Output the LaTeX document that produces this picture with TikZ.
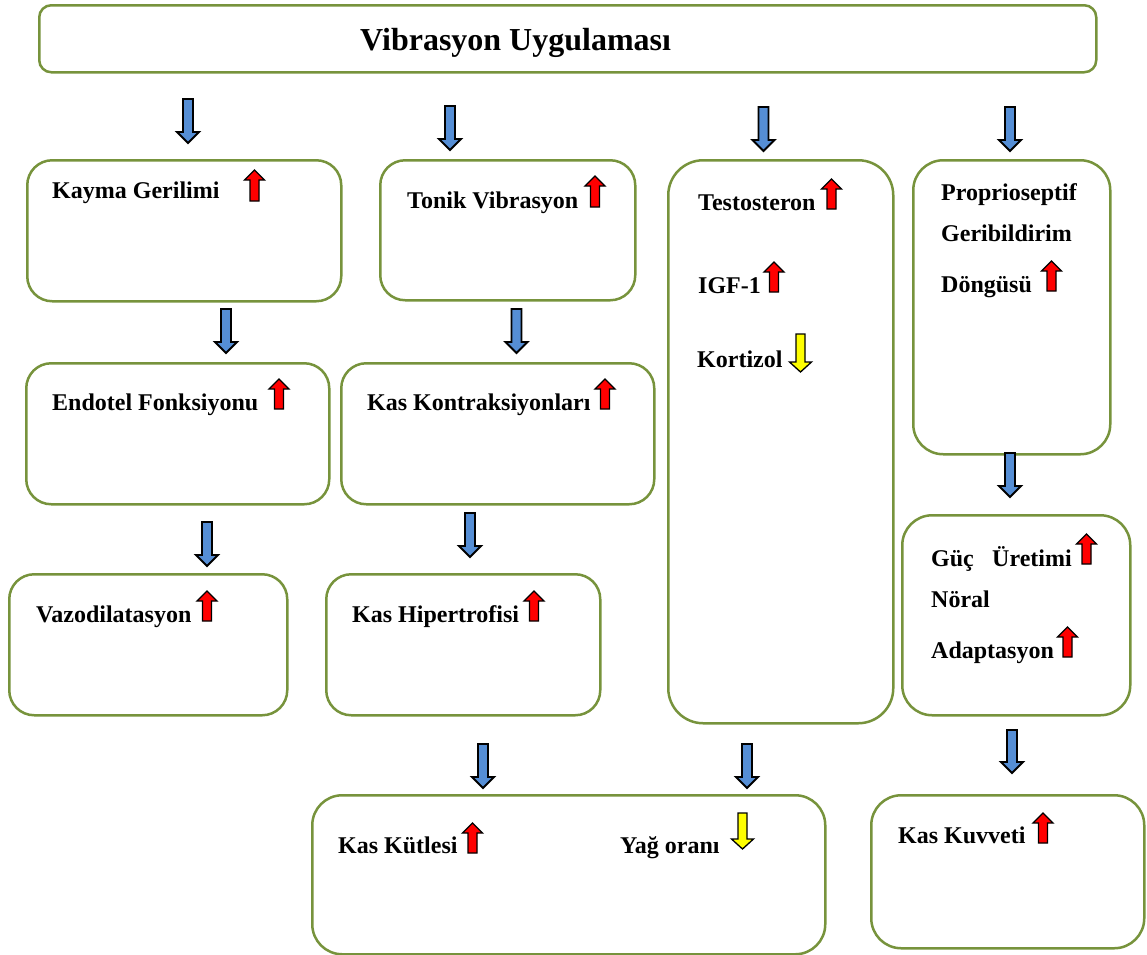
\documentclass[tikz,border=0pt]{standalone}
\usepackage{fontspec}
\setmainfont{Liberation Serif}
\usepackage{xcolor}
\usepackage{tikz}
\definecolor{boxgreen}{HTML}{77933C}
\definecolor{arrblue}{HTML}{558ED5}
\definecolor{arrred}{HTML}{FF0000}
\definecolor{arryellow}{HTML}{FFFF00}

% block arrow pointing down: x, top, tip, colour
\newcommand{\blkdown}[4]{%
  \draw[arrline,line width=1.9pt,fill=#4] (#1-5,#2) -- (#1+5,#2) -- (#1+5,#3-11) -- (#1+11,#3-11)
    -- (#1,#3) -- (#1-11,#3-11) -- (#1-5,#3-11) -- cycle;}
% small arrow pointing up: x, bottom, tip
\newcommand{\blkup}[3]{%
  \draw[arrline,fill=arrred] (#1-4.5,#2) -- (#1+4.5,#2) -- (#1+4.5,#3+10) -- (#1+10,#3+10)
    -- (#1,#3) -- (#1-10,#3+10) -- (#1-4.5,#3+10) -- cycle;}
% small arrow pointing down, yellow: x, top, tip
\newcommand{\yeldown}[3]{%
  \draw[arrline,fill=arryellow] (#1-4.5,#2) -- (#1+4.5,#2) -- (#1+4.5,#3-10) -- (#1+11,#3-10)
    -- (#1,#3) -- (#1-11,#3-10) -- (#1-4.5,#3-10) -- cycle;}

\begin{document}
\begin{tikzpicture}[x=1pt,y=-1pt,
    box/.style={draw=boxgreen,line width=2.5pt,rounded corners=25pt,fill=white,
      anchor=north west,inner sep=0pt},
    lbl/.style={anchor=base west,inner sep=0pt,font=\fontsize{24}{29}\selectfont\bfseries},
    arrline/.style={draw=black,line width=1.3pt,line join=miter}]
  \useasboundingbox (0,0) rectangle (1147,954);

  % title
  \node[box,rounded corners=12pt,minimum width=1057pt,minimum height=67pt] (title) at (38,4) {};
  \node[lbl,font=\fontsize{32}{38}\selectfont\bfseries] (titletext) at (360,50) {Vibrasyon Uygulaması};

  % first row
  \node[box,minimum width=314pt,minimum height=141pt] (kayma) at (26,159) {};
  \node[box,minimum width=255pt,minimum height=140pt] (tonik) at (379,159) {};
  \node[box,rounded corners=35pt,minimum width=225pt,minimum height=563pt] (hormon) at (667,159) {};
  \node[box,rounded corners=30pt,minimum width=197pt,minimum height=294pt] (propr) at (912,159) {};
  % second row
  \node[box,minimum width=303pt,minimum height=141pt] (endotel) at (25,362) {};
  \node[box,minimum width=313pt,minimum height=141pt] (kontr) at (340,362) {};
  % third row
  \node[box,minimum width=278pt,minimum height=141pt] (vazo) at (8,573) {};
  \node[box,minimum width=274pt,minimum height=141pt] (hiper) at (325,573) {};
  \node[box,rounded corners=30pt,minimum width=228pt,minimum height=200pt] (guc) at (901,514) {};
  % bottom row
  \node[box,rounded corners=30pt,minimum width=513pt,minimum height=159pt] (kutle) at (311,794) {};
  \node[box,rounded corners=30pt,minimum width=273pt,minimum height=153pt] (kuvvet) at (870,794) {};

  % labels
  \node[lbl] (kaymatext) at (52,198) {Kayma Gerilimi};
  \node[lbl] (toniktext) at (407,208) {Tonik Vibrasyon};
  \node[lbl] (testotext) at (698,210) {Testosteron};
  \node[lbl] (igftext) at (698,293) {IGF-1};
  \node[lbl] (kortizoltext) at (697,367) {Kortizol};
  \node[lbl] (proprtext) at (941,200) {Proprioseptif};
  \node[lbl] (geritext) at (941,241) {Geribildirim};
  \node[lbl] (dongutext) at (941,292) {Döngüsü};
  \node[lbl] (endoteltext) at (52,410) {Endotel Fonksiyonu};
  \node[lbl] (kontrtext) at (367,410) {Kas Kontraksiyonları};
  \node[lbl] (vazotext) at (36,622) {Vazodilatasyon};
  \node[lbl] (hipertext) at (352,622) {Kas Hipertrofisi};
  \node[lbl] (guctext) at (931,566) {Güç};
  \node[lbl] (uretimtext) at (992,566) {Üretimi};
  \node[lbl] (noraltext) at (931,607) {Nöral};
  \node[lbl] (adapttext) at (931,658) {Adaptasyon};
  \node[lbl] (kutletext) at (338,853) {Kas Kütlesi};
  \node[lbl] (yagtext) at (620,853) {Yağ oranı};
  \node[lbl] (kuvvettext) at (898,843) {Kas Kuvveti};

  % blue flow arrows
  \blkdown{188}{99}{143}{arrblue}
  \blkdown{450}{106}{150}{arrblue}
  \blkdown{763.5}{107}{151}{arrblue}
  \blkdown{1010}{107}{151}{arrblue}
  \blkdown{226}{309}{353}{arrblue}
  \blkdown{516.5}{309}{353}{arrblue}
  \blkdown{207}{522}{566}{arrblue}
  \blkdown{470}{513}{557}{arrblue}
  \blkdown{1010}{453}{497}{arrblue}
  \blkdown{483}{744}{788}{arrblue}
  \blkdown{747}{744}{788}{arrblue}
  \blkdown{1012}{730}{773}{arrblue}

  % increase / decrease marks
  \blkup{254.5}{201}{170}
  \blkup{595}{207}{176}
  \blkup{831.5}{209}{179}
  \blkup{774}{292}{262}
  \blkup{1051.5}{291}{261}
  \blkup{279}{409}{379}
  \blkup{605}{409}{379}
  \blkup{207}{621}{591}
  \blkup{534}{621}{591}
  \blkup{1086.5}{564}{534}
  \blkup{1067.5}{657}{627}
  \blkup{472.5}{853}{823}
  \blkup{1043}{843}{813}
  \yeldown{800.5}{334}{372}
  \yeldown{742.5}{813}{849}
\end{tikzpicture}
\end{document}
